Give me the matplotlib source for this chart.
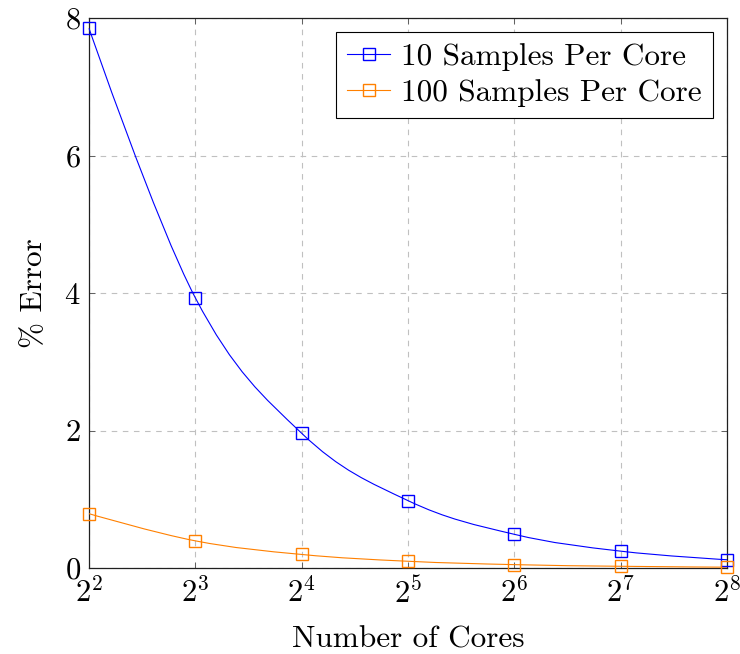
import numpy as np
import matplotlib
matplotlib.use("Agg")
from matplotlib import pyplot as plt
from matplotlib.path import Path
from matplotlib.patches import PathPatch

plt.rcParams['font.family'] = ['cmr10', 'DejaVu Serif']
plt.rcParams['mathtext.fontset'] = 'cm'
plt.rcParams['axes.formatter.use_mathtext'] = True

# data
cores = [4, 8, 16, 32, 64, 128, 256]
err_10 = [7.85, 3.93, 1.96, 0.98, 0.49, 0.245, 0.12]
err_100 = [0.79, 0.395, 0.197, 0.098, 0.049, 0.025, 0.012]
labels = ["10 Samples Per Core", "100 Samples Per Core"]
colors = ["#0000ff", "#ff8000"]


def smooth_path(x, y, tension=0.55):
    # bezier curve through the points, like pgfplots "smooth"
    p = np.column_stack([x, y])
    n = len(p)
    tang = np.zeros_like(p)
    for i in range(1, n - 1):
        tang[i] = (p[i + 1] - p[i - 1]) * tension / 3.0
    verts = [p[0]]
    codes = [Path.MOVETO]
    for i in range(n - 1):
        c1 = p[i] + tang[i]
        c2 = p[i + 1] - tang[i + 1]
        verts += [c1, c2, p[i + 1]]
        codes += [Path.CURVE4] * 3
    return Path(verts, codes)


fig = plt.figure(figsize=(7.4, 6.54), dpi=100)
ax = fig.add_axes([89 / 740, 1 - 568 / 654, 638 / 740, 550 / 654])

xpos = np.log2(cores)
for ys, c, lab in zip([err_10, err_100], colors, labels):
    ax.add_patch(PathPatch(smooth_path(xpos, ys), fill=False, edgecolor=c,
                           lw=0.8, zorder=3, clip_on=False))
    ax.plot(xpos, ys, ls='none', marker='s', mfc='none', mec=c, ms=8.5,
            mew=1.0, zorder=4, clip_on=False)
    # legend proxy
    ax.plot([], [], color=c, lw=0.8, marker='s', mfc='none', mec=c, ms=8.5,
            mew=1.0, label=lab)

ax.set_xlim(2, 8)
ax.set_ylim(0, 8)
ax.set_xticks(xpos)
ax.set_xticklabels(['$2^{%d}$' % int(v) for v in xpos])
ax.set_yticks([0, 2, 4, 6, 8])
ax.grid(True, color='#c0c0c0', ls=(0, (5, 5)), lw=0.8)
ax.tick_params(direction='in', length=4, width=0.7, color='#606060',
               top=True, right=True, labelsize=22, pad=6)
for s in ax.spines.values():
    s.set_linewidth(0.9)
    s.set_color('#202020')

ax.set_xlabel("Number of Cores", fontsize=22.5, labelpad=12)
ax.set_ylabel("% Error", fontsize=22.5, labelpad=12)

leg = ax.legend(loc='upper right', fontsize=22.5, fancybox=False, framealpha=1,
                edgecolor='black', borderpad=0.35, handlelength=1.4,
                handletextpad=0.35, labelspacing=0.25, borderaxespad=0.45)
leg.get_frame().set_linewidth(0.8)

fig.savefig("out.png", dpi=100)
